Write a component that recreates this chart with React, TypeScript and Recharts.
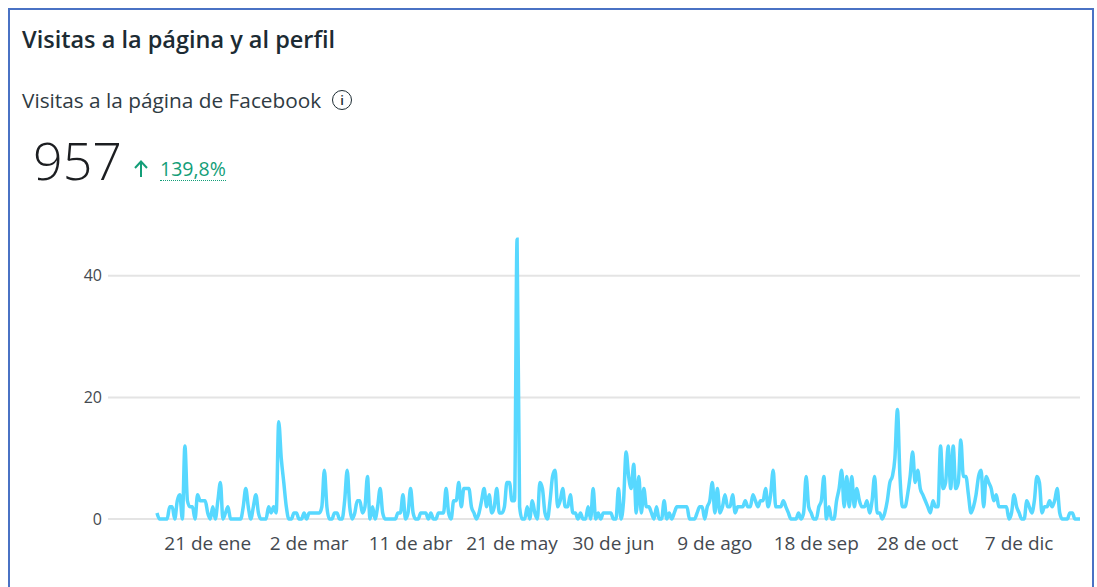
import React from 'react';
import { LineChart, Line, XAxis, YAxis, CartesianGrid } from 'recharts';

// Visitas diarias (un valor por día, año no bisiesto)
const visitasEne = [1, 0, 0, 0, 0, 2, 2, 0, 3, 4, 0, 12, 3, 2, 2, 0, 4, 3, 3, 3, 1, 0, 2, 0, 3, 6, 0, 1, 2, 0, 0];
const visitasFeb = [0, 0, 0, 2, 5, 2, 0, 2, 4, 1, 0, 0, 0, 2, 1, 2, 1, 16, 10, 6, 2, 0, 0, 1, 1, 0, 0, 1];
const visitasMar = [0, 1, 1, 1, 1, 1, 2, 8, 2, 0, 0, 1, 1, 0, 0, 3, 8, 2, 0, 1, 3, 3, 1, 2, 7, 0, 2, 0, 2, 5, 1];
const visitasAbr = [0, 0, 0, 0, 0, 1, 1, 4, 0, 1, 5, 1, 0, 0, 1, 1, 1, 0, 1, 0, 0, 1, 1, 1, 5, 1, 0, 3, 3, 6];
const visitasMay = [2, 5, 5, 5, 2, 1, 0, 1, 3, 5, 2, 4, 1, 2, 5, 1, 1, 2, 6, 6, 3, 3, 46, 2, 0, 0, 2, 0, 3, 1, 0];
const visitasJun = [6, 5, 1, 0, 3, 7, 8, 2, 3, 5, 2, 2, 4, 1, 1, 0, 1, 0, 0, 2, 0, 5, 0, 1, 0, 1, 1, 1, 1, 0];
const visitasJul = [0, 5, 0, 3, 11, 7, 5, 9, 1, 7, 1, 5, 2, 2, 1, 0, 2, 0, 0, 3, 0, 1, 0, 1, 2, 2, 2, 2, 2, 0, 0];
const visitasAgo = [0, 1, 2, 2, 0, 2, 3, 6, 1, 5, 1, 2, 4, 2, 2, 4, 1, 2, 2, 2, 3, 2, 2, 4, 3, 2, 3, 3, 5, 2, 4];
const visitasSep = [8, 2, 2, 2, 3, 2, 1, 0, 0, 0, 1, 0, 1, 7, 2, 1, 0, 0, 2, 3, 7, 0, 2, 0, 0, 3, 5, 8, 2, 7];
const visitasOct = [2, 7, 2, 5, 3, 2, 2, 3, 1, 3, 7, 1, 1, 0, 1, 3, 6, 7, 10, 18, 7, 2, 2, 4, 7, 11, 6, 8, 5, 4, 3];
const visitasNov = [2, 1, 3, 2, 2, 12, 5, 6, 12, 5, 12, 5, 6, 13, 7, 7, 4, 1, 2, 4, 7, 8, 2, 7, 6, 5, 3, 4, 2, 2];
const visitasDic = [2, 2, 0, 1, 4, 2, 1, 0, 0, 3, 2, 1, 3, 7, 6, 1, 2, 2, 3, 2, 3, 5, 1, 0, 0, 0, 1, 1, 0, 0, 0];

const meses = ['ene', 'feb', 'mar', 'abr', 'may', 'jun', 'jul', 'ago', 'sep', 'oct', 'nov', 'dic'];
const visitasPorMes = [
    visitasEne, visitasFeb, visitasMar, visitasAbr, visitasMay, visitasJun,
    visitasJul, visitasAgo, visitasSep, visitasOct, visitasNov, visitasDic,
];

const etiquetasX = ['21 de ene', '2 de mar', '11 de abr', '21 de may', '30 de jun', '9 de ago', '18 de sep', '28 de oct', '7 de dic'];
const ticksY = [0, 20, 40];

const data = visitasPorMes.flatMap((valores, m) =>
    valores.map((v, i) => ({ fecha: `${i + 1} de ${meses[m]}`, visitas: v }))
);

const FONT = '"Open Sans", "Noto Sans", sans-serif';
const VERDE = '#139e78';

export default function App() {
    return (
        <div
            style={{
                position: 'fixed',
                left: 8,
                top: 8,
                width: 1086,
                height: 620,
                border: '2px solid #4a72c4',
                borderBottom: 'none',
                boxSizing: 'border-box',
                background: '#fff',
                fontFamily: FONT,
                color: '#1c2b33',
            }}
        >
            <div style={{ position: 'absolute', left: 12, top: 18, fontSize: 23.5, lineHeight: '23px', fontWeight: 600, whiteSpace: 'nowrap' }}>
                Visitas a la página y al perfil
            </div>
            <div style={{ position: 'absolute', left: 12, top: 80, fontSize: 20.8, lineHeight: '20px', color: '#2f3b43', whiteSpace: 'nowrap' }}>
                Visitas a la página de Facebook
            </div>
            <div
                style={{
                    position: 'absolute', left: 322, top: 80, width: 18, height: 18,
                    border: '1.5px solid #1c2b33', borderRadius: '50%',
                    fontSize: 13, lineHeight: '18px', textAlign: 'center', fontWeight: 600,
                }}
            >
                i
            </div>
            <div style={{ position: 'absolute', left: 23, top: 124, fontSize: 52, lineHeight: '52px', fontWeight: 300, color: '#1c1e21' }}>
                957
            </div>
            {/* flecha de tendencia */}
            <svg style={{ position: 'absolute', left: 122, top: 149 }} width={18} height={20}>
                <path d="M9 18 V3 M3 9 L9 2.5 L15 9" fill="none" stroke={VERDE} strokeWidth={2} />
            </svg>
            <div
                style={{
                    position: 'absolute', left: 150, top: 149, fontSize: 19.5, lineHeight: '20px', color: VERDE,
                    borderBottom: `1.5px dotted ${VERDE}`, paddingBottom: 1,
                }}
            >
                139,8%
            </div>

            <div style={{ position: 'absolute', left: 0, top: 190 }}>
                <LineChart width={1082} height={359} data={data} margin={{ top: 15, right: 12, bottom: 0, left: 0 }}>
                    <CartesianGrid vertical={false} syncWithTicks stroke="#e4e4e4" strokeWidth={2} />
                    <XAxis
                        dataKey="fecha"
                        ticks={etiquetasX}
                        interval={0}
                        axisLine={false}
                        tickLine={false}
                        tickMargin={12}
                        height={40}
                        padding={{ left: 49, right: 0 }}
                        tick={{ fontSize: 19, fill: '#444950', fontFamily: FONT }}
                    />
                    <YAxis
                        domain={[0, 50]}
                        ticks={ticksY}
                        width={98}
                        axisLine={false}
                        tickLine={false}
                        tickMargin={0}
                        tick={{ fontSize: 16, fill: '#444950', fontFamily: FONT }}
                    />
                    <Line
                        type="monotone"
                        dataKey="visitas"
                        stroke="#57d8ff"
                        strokeWidth={3.5}
                        dot={false}
                        isAnimationActive={false}
                    />
                </LineChart>
            </div>
        </div>
    );
}
